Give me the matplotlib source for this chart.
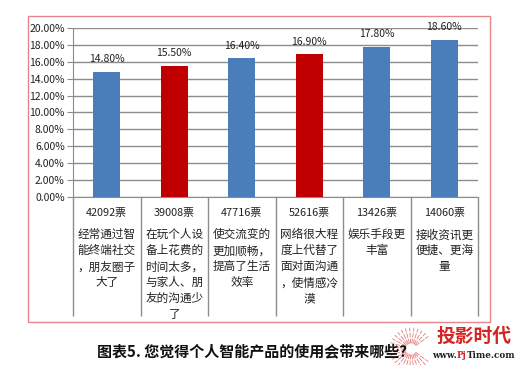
import numpy as np
import matplotlib; matplotlib.use("Agg")
import matplotlib.pyplot as plt
from matplotlib.patches import Rectangle
from matplotlib.lines import Line2D
from matplotlib.transforms import blended_transform_factory

plt.rcParams['font.family'] = ['Noto Sans CJK SC', 'DejaVu Sans']

# data
shares = [14.8, 15.5, 16.4, 16.9, 17.8, 18.6]
votes = ["42092票", "39008票", "47716票", "52616票", "13426票", "14060票"]
answers = ["经常通过智\n能终端社交\n，朋友圈子\n大了",
           "在玩个人设\n备上花费的\n时间太多，\n与家人、朋\n友的沟通少\n了",
           "使交流变的\n更加顺畅，\n提高了生活\n效率",
           "网络很大程\n度上代替了\n面对面沟通\n，使情感冷\n漠",
           "娱乐手段更\n丰富",
           "接收资讯更\n便捷、更海\n量"]
BLUE, RED = "#4a7ebb", "#c00000"
bar_cols = [BLUE, RED, BLUE, RED, BLUE, BLUE]
GRID = "#8c8c8c"

W, H = 523, 365
fig = plt.figure(figsize=(W/100, H/100), dpi=100)
ax = fig.add_axes([73/W, 1-197/H, (478-73)/W, (197-28)/H])

x = np.arange(len(shares))
ax.bar(x, shares, width=0.4, color=bar_cols, zorder=3)
for xi, v in zip(x, shares):
    ax.text(xi, v + 0.9, f"{v:.2f}%", ha="center", va="bottom", fontsize=7.5, color="#222")

ax.set_xlim(-0.5, len(shares)-0.5)
ax.set_ylim(0, 20)
ax.set_yticks(np.arange(0, 21, 2))
ax.set_yticklabels([f"{t:.2f}%" for t in np.arange(0, 21, 2)], fontsize=7.5, color="#222")
ax.yaxis.grid(True, color=GRID, lw=1, zorder=0)
ax.tick_params(axis="y", length=4, color=GRID, pad=2)
# category separators as long x ticks
ax.set_xticks(np.arange(-0.5, len(shares)))
ax.set_xticklabels([])
ax.tick_params(axis="x", length=86, color=GRID, width=1, direction="out")
for s in ["top", "right"]:
    ax.spines[s].set_visible(False)
for s in ["left", "bottom"]:
    ax.spines[s].set_color(GRID)

tr = blended_transform_factory(ax.transData, ax.transAxes)
for xi, vt, ans in zip(x, votes, answers):
    ax.text(xi, -0.095, vt, transform=tr, ha="center", va="center", fontsize=7.8, color="#222")
    ax.text(xi, -0.185, ans, transform=tr, ha="center", va="top", fontsize=8.4,
            color="#222", linespacing=1.3, multialignment="center")

# red frame
fig.add_artist(Rectangle((28/W, 1-322/H), (490-28)/W, (322-16)/H, transform=fig.transFigure,
                         fill=False, ec="#e5868c", lw=1))

fig.text(97/W, 1-351/H, "图表5. 您觉得个人智能产品的使用会带来哪些？", fontsize=10.8,
         fontweight="bold", ha="left", va="center", color="#111")

# watermark logo
cx, cy = 411, 349
for a in np.linspace(np.pi*0.2, np.pi*1.8, 26):
    for r0, r1 in [(6, 10), (12, 16), (18, 21)]:
        fig.add_artist(Line2D([(cx + r0*np.cos(a))/W, (cx + r1*np.cos(a))/W],
                              [1-(cy - r0*np.sin(a))/H, 1-(cy - r1*np.sin(a))/H],
                              transform=fig.transFigure, color="#e04040", lw=0.6, alpha=0.7))
fig.text(474/W, 1-336/H, "投影时代", fontsize=13.5, fontweight="bold", color="#d42525",
         ha="center", va="center")

# url pieces placed one after another
rend = fig.canvas.get_renderer()
px = 432
for piece, col in [("www.", "#222"), ("Pj", "#d42525"), ("Time.com", "#222")]:
    t = fig.text(px/W, 1-355/H, piece, fontsize=6.3, fontweight="bold", color=col,
                 ha="left", va="center", family="DejaVu Serif")
    px += t.get_window_extent(renderer=rend).width + 0.3

fig.savefig("out.png", dpi=100)
